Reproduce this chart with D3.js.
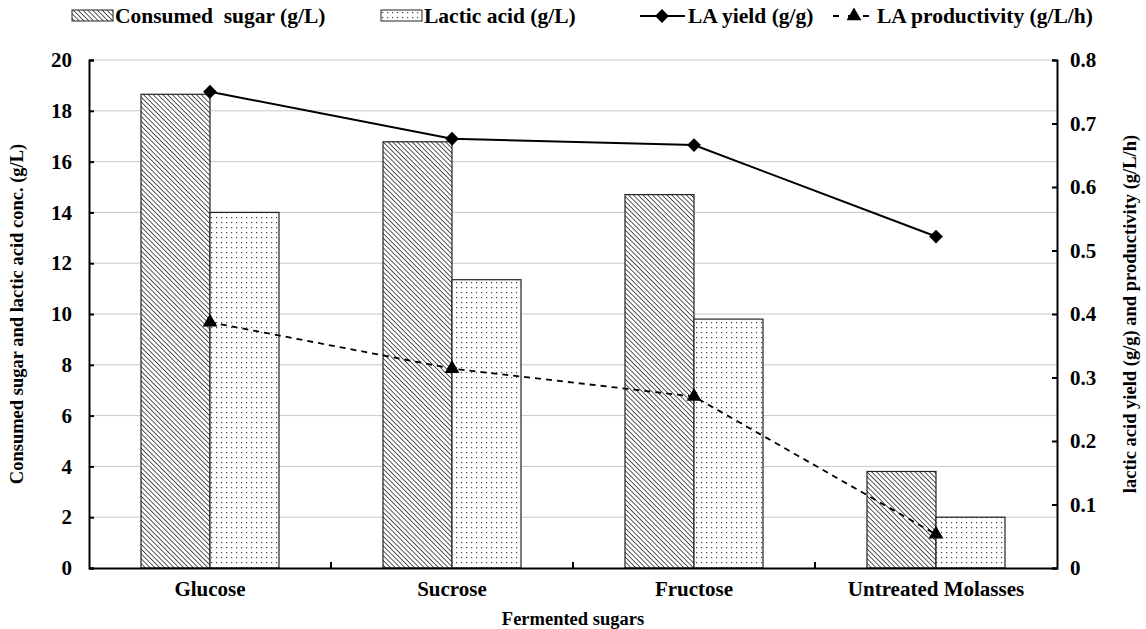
<!DOCTYPE html>
<html>
<head>
<meta charset="utf-8">
<script src="https://cdn.jsdelivr.net/npm/d3@7"></script>
<style>
  body { margin: 0; background: #fff; }
  text { font-family: "Liberation Serif", "Times New Roman", serif; font-weight: bold; fill: #000; }
</style>
</head>
<body>
<div id="chart"></div>
<script>
const categories = ["Glucose", "Sucrose", "Fructose", "Untreated Molasses"];
const consumedSugar = [18.65, 16.78, 14.7, 3.8];
const lacticAcid = [14.0, 11.35, 9.8, 2.0];
const laYield = [0.75, 0.676, 0.666, 0.522];
const laProductivity = [0.387, 0.314, 0.27, 0.053];
const leftTicks = d3.range(0, 21, 2);
const rightTicks = [0, 0.1, 0.2, 0.3, 0.4, 0.5, 0.6, 0.7, 0.8];

const width = 1146, height = 629;
const margin = {top: 60, right: 89, bottom: 61, left: 89};
const innerW = width - margin.left - margin.right;
const innerH = height - margin.top - margin.bottom;

const svg = d3.select("#chart").append("svg")
    .attr("width", width)
    .attr("height", height);

// fill patterns
const defs = svg.append("defs");
const hatch = defs.append("pattern")
    .attr("id", "hatch")
    .attr("patternUnits", "userSpaceOnUse")
    .attr("width", 3.4).attr("height", 3.4)
    .attr("patternTransform", "rotate(-45)");
hatch.append("rect").attr("width", 3.4).attr("height", 3.4).attr("fill", "#fff");
hatch.append("line").attr("x1", 0).attr("y1", 0).attr("x2", 0).attr("y2", 3.4)
    .attr("stroke", "#222").attr("stroke-width", 1.5);

const dots = defs.append("pattern")
    .attr("id", "dots")
    .attr("patternUnits", "userSpaceOnUse")
    .attr("width", 5).attr("height", 5);
dots.append("rect").attr("width", 5).attr("height", 5).attr("fill", "#fff");
dots.append("rect").attr("x", 2).attr("y", 2).attr("width", 1.2).attr("height", 1.2).attr("fill", "#444");

const g = svg.append("g").attr("transform", `translate(${margin.left},${margin.top})`);

const x = d3.scaleBand().domain(categories).range([0, innerW]);
const yL = d3.scaleLinear().domain([0, 20]).range([innerH, 0]);
const yR = d3.scaleLinear().domain([0, 0.8]).range([innerH, 0]);

// gridlines
g.append("g").selectAll("line")
    .data(leftTicks.slice(1))
    .enter().append("line")
    .attr("x1", 0).attr("x2", innerW)
    .attr("y1", d => yL(d)).attr("y2", d => yL(d))
    .attr("stroke", "#c8c8c8").attr("stroke-width", 1);

const barW = 69;
const pad = (x.bandwidth() - 2 * barW) / 2;

// bars
g.selectAll("rect.consumed")
    .data(consumedSugar)
    .enter().append("rect")
    .attr("class", "consumed")
    .attr("x", (d, i) => x(categories[i]) + pad)
    .attr("y", d => yL(d))
    .attr("width", barW)
    .attr("height", d => innerH - yL(d))
    .attr("fill", "url(#hatch)")
    .attr("stroke", "#222").attr("stroke-width", 1.2);

g.selectAll("rect.lactic")
    .data(lacticAcid)
    .enter().append("rect")
    .attr("class", "lactic")
    .attr("x", (d, i) => x(categories[i]) + pad + barW)
    .attr("y", d => yL(d))
    .attr("width", barW)
    .attr("height", d => innerH - yL(d))
    .attr("fill", "url(#dots)")
    .attr("stroke", "#222").attr("stroke-width", 1.2);

// lines
const cx = (d, i) => x(categories[i]) + x.bandwidth() / 2;
const line = d3.line().x(cx).y(d => yR(d));

g.append("path").datum(laYield)
    .attr("d", line)
    .attr("fill", "none").attr("stroke", "#000").attr("stroke-width", 2);
g.append("path").datum(laProductivity)
    .attr("d", line)
    .attr("fill", "none").attr("stroke", "#000").attr("stroke-width", 1.8)
    .attr("stroke-dasharray", "6,5");

// diamond = square turned 45 degrees
const diamond = d3.symbol().type(d3.symbolSquare).size(95);
const triangle = d3.symbol().type(d3.symbolTriangle).size(95);

g.selectAll("path.ydot")
    .data(laYield)
    .enter().append("path")
    .attr("class", "ydot")
    .attr("d", diamond)
    .attr("transform", (d, i) => `translate(${cx(d, i)},${yR(d)}) rotate(45)`)
    .attr("fill", "#000");
g.selectAll("path.pdot")
    .data(laProductivity)
    .enter().append("path")
    .attr("class", "pdot")
    .attr("d", triangle)
    .attr("transform", (d, i) => `translate(${cx(d, i)},${yR(d)})`)
    .attr("fill", "#000");

// axes
const axisL = g.append("g")
    .call(d3.axisLeft(yL).tickValues(leftTicks).tickSize(-5).tickPadding(17).tickFormat(d3.format("d")));
const axisR = g.append("g")
    .attr("transform", `translate(${innerW},0)`)
    .call(d3.axisRight(yR).tickValues(rightTicks).tickSize(-5).tickPadding(13)
        .tickFormat(d => d === 0 ? "0" : d3.format(".1f")(d)));
const axisB = g.append("g")
    .attr("transform", `translate(0,${innerH})`)
    .call(d3.axisBottom(x).tickSize(0).tickPadding(13));

[axisL, axisR, axisB].forEach(a => {
    a.select(".domain").attr("stroke", "#000").attr("stroke-width", 2);
    a.selectAll(".tick line").attr("stroke", "#000").attr("stroke-width", 2);
    a.selectAll("text").style("font-family", "Liberation Serif").style("font-weight", "bold")
        .attr("font-size", 21).attr("fill", "#000");
});
axisL.selectAll("text").attr("text-anchor", "end");
axisR.selectAll("text").attr("text-anchor", "start");

// category separator ticks
g.append("g").selectAll("line")
    .data(categories.slice(1))
    .enter().append("line")
    .attr("x1", d => x(d)).attr("x2", d => x(d))
    .attr("y1", innerH).attr("y2", innerH - 6)
    .attr("stroke", "#000").attr("stroke-width", 2);

// axis titles
svg.append("text")
    .attr("transform", `translate(23,${margin.top + innerH / 2}) rotate(-90)`)
    .attr("text-anchor", "middle")
    .attr("font-size", 18.5)
    .text("Consumed sugar and lactic acid conc. (g/L)");
svg.append("text")
    .attr("transform", `translate(1136,${margin.top + innerH / 2}) rotate(-90)`)
    .attr("text-anchor", "middle")
    .attr("font-size", 18.5)
    .text("lactic acid yield (g/g) and productivity (g/L/h)");
svg.append("text")
    .attr("x", margin.left + innerW / 2).attr("y", 625)
    .attr("text-anchor", "middle")
    .attr("font-size", 18.5)
    .text("Fermented sugars");

// legend
const legend = svg.append("g");
legend.append("rect").attr("x", 72).attr("y", 10).attr("width", 41).attr("height", 11)
    .attr("fill", "url(#hatch)").attr("stroke", "#222");
legend.append("text").attr("x", 115).attr("y", 23).attr("font-size", 21.5).text("Consumed\u00a0 sugar (g/L)");
legend.append("rect").attr("x", 381).attr("y", 10).attr("width", 41).attr("height", 11)
    .attr("fill", "url(#dots)").attr("stroke", "#222");
legend.append("text").attr("x", 424).attr("y", 23).attr("font-size", 21.5).text("Lactic acid (g/L)");

legend.append("line").attr("x1", 640).attr("x2", 685).attr("y1", 16).attr("y2", 16)
    .attr("stroke", "#000").attr("stroke-width", 2);
legend.append("path").attr("d", diamond).attr("transform", "translate(662,16) rotate(45)");
legend.append("text").attr("x", 688).attr("y", 23).attr("font-size", 21.5).text("LA yield (g/g)");

legend.append("line").attr("x1", 833).attr("x2", 875).attr("y1", 16).attr("y2", 16)
    .attr("stroke", "#000").attr("stroke-width", 1.8).attr("stroke-dasharray", "6,9");
legend.append("path").attr("d", triangle).attr("transform", "translate(854,16)");
legend.append("text").attr("x", 877).attr("y", 23).attr("font-size", 21.5).text("LA productivity (g/L/h)");
</script>
</body>
</html>
